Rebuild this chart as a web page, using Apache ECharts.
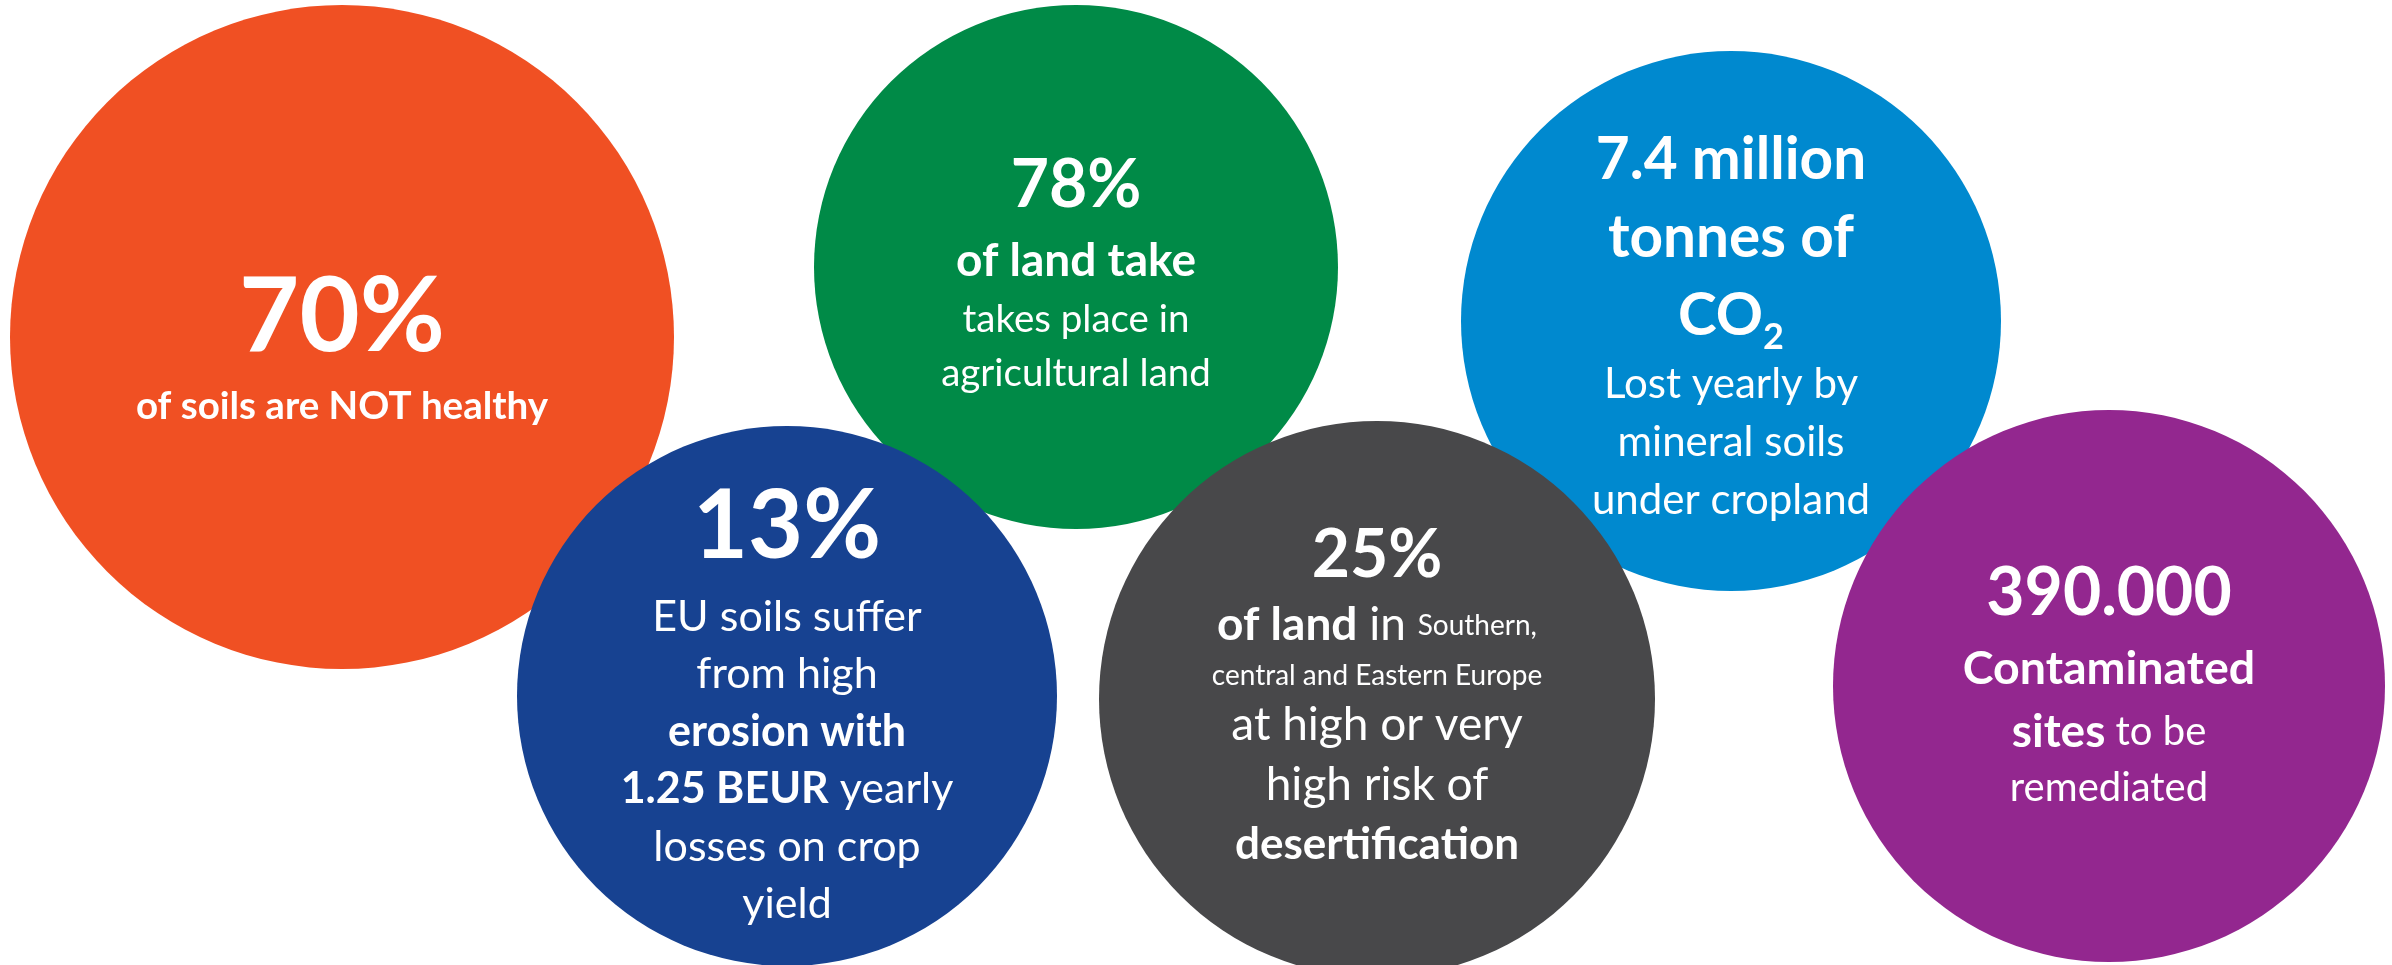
<!DOCTYPE html>
<html>
<head>
<meta charset="utf-8">
<script src="https://cdn.jsdelivr.net/npm/echarts@6/dist/echarts.min.js"></script>
<style>
html,body{margin:0;padding:0;background:#fff;}
#chart{width:2392px;height:965px;}
</style>
</head>
<body>
<div id="chart"></div>
<script>
// ---- data ----
const topics = ['Unhealthy soils', 'Land take', 'CO2 loss', 'Erosion', 'Desertification', 'Contaminated sites'];
const bubbleX = [342, 1076, 1731, 787, 1377, 2109];
const bubbleY = [337, 267, 321, 696, 699, 686];
const bubbleR = [332, 262, 270, 270, 278, 276];
const labelTexts = [
  '{big|70%}\n{b|of soils are NOT healthy}',
  '{big|78%}\n{b|of land take}\n{r|takes place in}\n{r|agricultural land}',
  '{b|7.4 million}\n{b|tonnes of}\n{b|CO}{sub|2}\n{r|Lost yearly by}\n{r|mineral soils}\n{r|under cropland}',
  '{big|13%}\n{r|EU soils suffer}\n{r|from high}\n{b|erosion with}\n{b|1.25 BEUR}{r| yearly}\n{r|losses on crop}\n{r|yield}',
  '{big|25%}\n{b|of land}{r| in }{s|Southern,}\n{s|central and Eastern Europe}\n{r|at high or very}\n{r|high risk of}\n{b2|desertification}',
  '{big|390.000}\n{b|Contaminated}\n{b3|sites}{r| to be}\n{r|remediated}'
];

// ---- styles ----
const colors = ['#F05023', '#008A47', '#0089CF', '#174291', '#48484A', '#93278F'];
const FF = 'Lato, "Open Sans", sans-serif';
function st(size, weight, lh, extra) {
  return Object.assign({fontFamily: FF, fontSize: size, fontWeight: weight, lineHeight: lh, color: '#fff'}, extra || {});
}
const richStyles = [
  {big: st(104, 'bold', 120), b: st(38.5, 'bold', 60)},
  {big: st(66, 'bold', 86), b: st(46, 'bold', 64), r: st(38.5, 'normal', 54)},
  {b: st(58.5, 'bold', 78), sub: st(36, 'bold', 36, {verticalAlign: 'bottom'}), r: st(42, 'normal', 58)},
  {big: st(95, 'bold', 122), b: st(43, 'bold', 57.5), r: st(43, 'normal', 57.5)},
  {big: st(66, 'bold', 80), b: st(46, 'bold', 60), r: st(46, 'normal', 60), s: st(28, 'normal', 40), b2: st(44, 'bold', 58)},
  {big: st(66, 'bold', 84), b: st(46.5, 'bold', 66), b3: st(46, 'bold', 60), r: st(40, 'normal', 52)}
];
const labelShift = [10, 5, 4, 3.5, -4.5, -3];

const series = topics.map((name, i) => ({
  type: 'scatter',
  name: name,
  z: 2 + i,
  silent: true,
  animation: false,
  data: [[bubbleX[i], bubbleY[i], bubbleR[i]]],
  symbol: 'circle',
  symbolSize: (v) => v[2] * 2,
  itemStyle: {color: colors[i], opacity: 1},
  label: {
    show: true,
    position: 'inside',
    align: 'center',
    verticalAlign: 'middle',
    offset: [0, labelShift[i]],
    formatter: labelTexts[i],
    rich: richStyles[i]
  },
  emphasis: {disabled: true}
}));

const chart = echarts.init(document.getElementById('chart'), null, {renderer: 'canvas'});
chart.setOption({
  animation: false,
  backgroundColor: '#ffffff',
  grid: {left: 0, right: 0, top: 0, bottom: 0},
  xAxis: {type: 'value', min: 0, max: 2392, show: false},
  yAxis: {type: 'value', min: 0, max: 965, inverse: true, show: false},
  series: series
});
</script>
</body>
</html>
